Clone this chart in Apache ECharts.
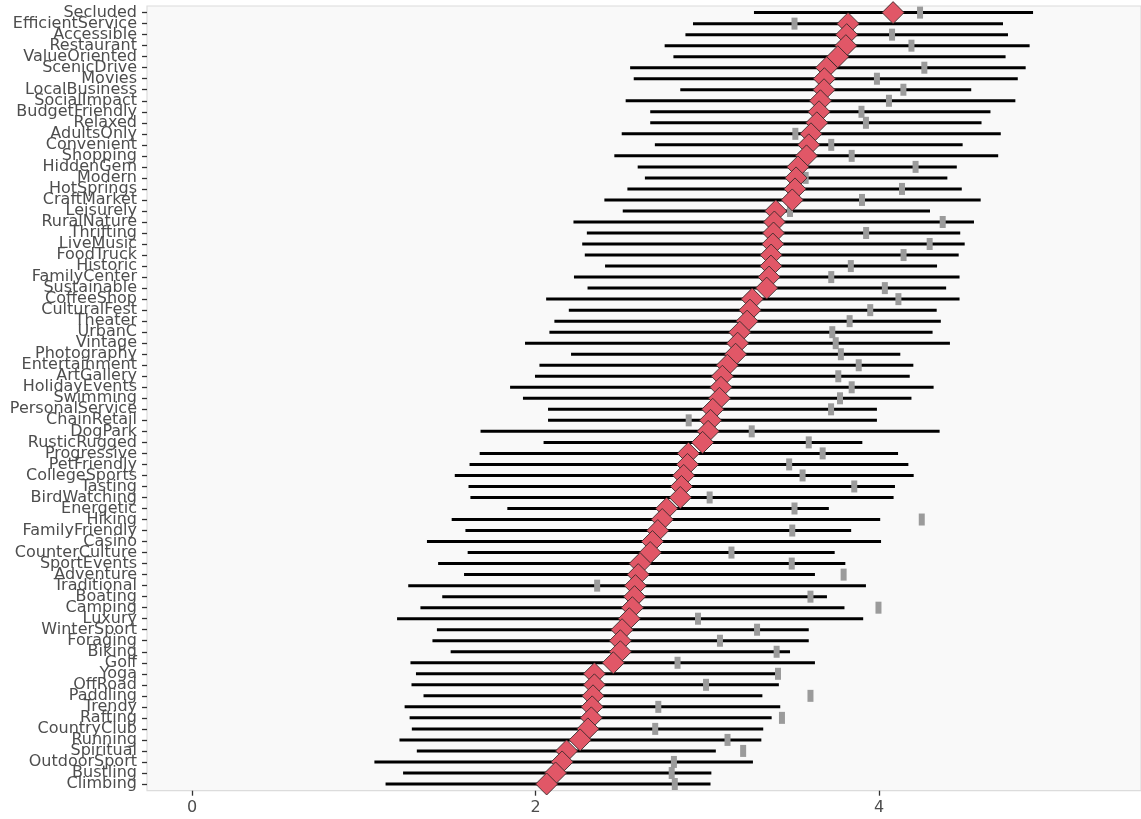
<!DOCTYPE html>
<html>
<head>
<meta charset="utf-8">
<script src="https://cdn.jsdelivr.net/npm/echarts@6/dist/echarts.min.js"></script>
<style>
html,body{margin:0;padding:0;background:#fff;}
#chart{width:1141px;height:819px;}
</style>
</head>
<body>
<div id="chart"></div>
<script>
const categories = ["Secluded","EfficientService","Accessible","Restaurant","ValueOriented","ScenicDrive","Movies","LocalBusiness","SocialImpact","BudgetFriendly","Relaxed","AdultsOnly","Convenient","Shopping","HiddenGem","Modern","HotSprings","CraftMarket","Leisurely","RuralNature","Thrifting","LiveMusic","FoodTruck","Historic","FamilyCenter","Sustainable","CoffeeShop","CulturalFest","Theater","UrbanC","Vintage","Photography","Entertainment","ArtGallery","HolidayEvents","Swimming","PersonalService","ChainRetail","DogPark","RusticRugged","Progressive","PetFriendly","CollegeSports","Tasting","BirdWatching","Energetic","Hiking","FamilyFriendly","Casino","CounterCulture","SportEvents","Adventure","Traditional","Boating","Camping","Luxury","WinterSport","Foraging","Biking","Golf","Yoga","OffRoad","Paddling","Trendy","Rafting","CountryClub","Running","Spiritual","OutdoorSport","Bustling","Climbing"];

const lowVals = [3.272,2.917,2.873,2.752,2.803,2.551,2.572,2.843,2.525,2.668,2.668,2.502,2.695,2.459,2.595,2.637,2.535,2.401,2.508,2.221,2.299,2.272,2.287,2.405,2.224,2.303,2.062,2.194,2.110,2.081,1.939,2.207,2.023,1.997,1.852,1.927,2.073,2.073,1.680,2.047,1.675,1.616,1.530,1.610,1.621,1.836,1.512,1.592,1.368,1.605,1.433,1.584,1.259,1.457,1.330,1.194,1.426,1.400,1.506,1.272,1.304,1.278,1.348,1.238,1.267,1.280,1.208,1.309,1.062,1.229,1.127];

const highVals = [4.897,4.722,4.751,4.877,4.737,4.854,4.808,4.537,4.794,4.649,4.597,4.709,4.487,4.694,4.453,4.398,4.482,4.592,4.297,4.553,4.473,4.499,4.464,4.338,4.469,4.391,4.469,4.336,4.360,4.312,4.413,4.124,4.200,4.179,4.318,4.189,3.988,3.988,4.353,3.903,4.111,4.171,4.202,4.093,4.085,3.708,4.007,3.838,4.012,3.742,3.804,3.627,3.924,3.697,3.799,3.908,3.591,3.591,3.482,3.627,3.396,3.417,3.321,3.425,3.375,3.326,3.315,3.050,3.266,3.024,3.019];

const meanVals = [4.082,3.820,3.812,3.807,3.760,3.695,3.682,3.680,3.659,3.651,3.638,3.604,3.591,3.578,3.528,3.517,3.511,3.495,3.399,3.391,3.386,3.382,3.372,3.371,3.360,3.346,3.262,3.249,3.232,3.189,3.177,3.165,3.117,3.088,3.080,3.071,3.032,3.019,3.005,2.973,2.890,2.885,2.863,2.850,2.843,2.764,2.738,2.712,2.681,2.668,2.609,2.598,2.582,2.577,2.564,2.546,2.504,2.494,2.494,2.453,2.343,2.343,2.335,2.330,2.325,2.305,2.260,2.181,2.155,2.117,2.065];

const grayVals = [4.239,3.508,4.076,4.189,3.760,4.264,3.988,4.142,4.058,3.898,3.924,3.513,3.722,3.841,4.213,3.573,4.134,3.901,3.482,4.371,3.925,4.295,4.143,3.836,3.722,4.034,4.113,3.949,3.829,3.728,3.748,3.778,3.882,3.763,3.841,3.773,3.721,2.892,3.259,3.591,3.672,3.477,3.555,3.856,3.014,3.508,4.249,3.495,2.681,3.141,3.492,3.794,2.359,3.601,3.997,2.946,3.290,3.074,3.404,2.827,3.412,2.993,3.601,2.715,3.435,2.697,3.118,3.209,2.806,2.793,2.811];

const xTicks = [0, 2, 4];

const X_MIN = -0.262, X_MAX = 5.5255;
const chart = echarts.init(document.getElementById('chart'), null, {renderer: 'canvas'});
const FONT = 'DejaVu Sans';

chart.setOption({
  animation: false,
  backgroundColor: '#ffffff',
  grid: [
    { // data grid
      left: 147, top: 7.1, right: -2, bottom: 29.5, show: false
    },
    { // panel background
      left: 147, top: 6, right: -2, bottom: 28.3,
      show: true, backgroundColor: '#f9f9f9', borderColor: '#dcdcdc', borderWidth: 1.2
    }
  ],
  xAxis: [
    {
      gridIndex: 0, type: 'value', min: X_MIN, max: X_MAX, show: false
    },
    {
      gridIndex: 1, type: 'value', min: X_MIN, max: X_MAX,
      axisLine: {show: false, onZero: false},
      splitLine: {show: false},
      axisTick: {show: true, customValues: xTicks, length: 5, lineStyle: {color: '#333', width: 1.3}},
      axisLabel: {customValues: xTicks, margin: 9, fontFamily: FONT, fontSize: 16, color: '#4d4d4d'}
    }
  ],
  yAxis: [
    {
      gridIndex: 0, type: 'category', data: categories, inverse: true, boundaryGap: true,
      axisLine: {show: false, onZero: false},
      splitLine: {show: false},
      axisTick: {show: true, interval: 0, alignWithLabel: true, length: 5, lineStyle: {color: '#333', width: 1.3}},
      axisLabel: {interval: 0, margin: 10, fontFamily: FONT, fontSize: 16, color: '#4d4d4d'}
    },
    {
      gridIndex: 1, type: 'value', min: 0, max: 1, show: false
    }
  ],
  series: [
    {
      type: 'custom',
      z: 1,
      xAxisIndex: 0, yAxisIndex: 0,
      encode: {x: [1, 2], y: 0},
      data: categories.map((c, i) => [c, lowVals[i], highVals[i]]),
      renderItem: function (params, api) {
        const y = api.value(0);
        const a = api.coord([api.value(1), y]);
        const b = api.coord([api.value(2), y]);
        return {type: 'line', shape: {x1: a[0], y1: a[1], x2: b[0], y2: b[1]},
                style: {stroke: '#000000', lineWidth: 3}};
      }
    },
    {
      type: 'scatter',
      z: 2,
      xAxisIndex: 0, yAxisIndex: 0,
      symbol: 'rect',
      symbolSize: [6, 12],
      itemStyle: {color: '#9b9b9b', opacity: 1},
      data: categories.map((c, i) => [grayVals[i], c])
    },
    {
      type: 'scatter',
      z: 3,
      xAxisIndex: 0, yAxisIndex: 0,
      symbol: 'diamond',
      symbolSize: [22, 22],
      itemStyle: {color: '#e15767', borderColor: '#3a2a2a', borderWidth: 0.9, opacity: 1},
      data: categories.map((c, i) => [meanVals[i], c])
    }
  ]
});
</script>
</body>
</html>
